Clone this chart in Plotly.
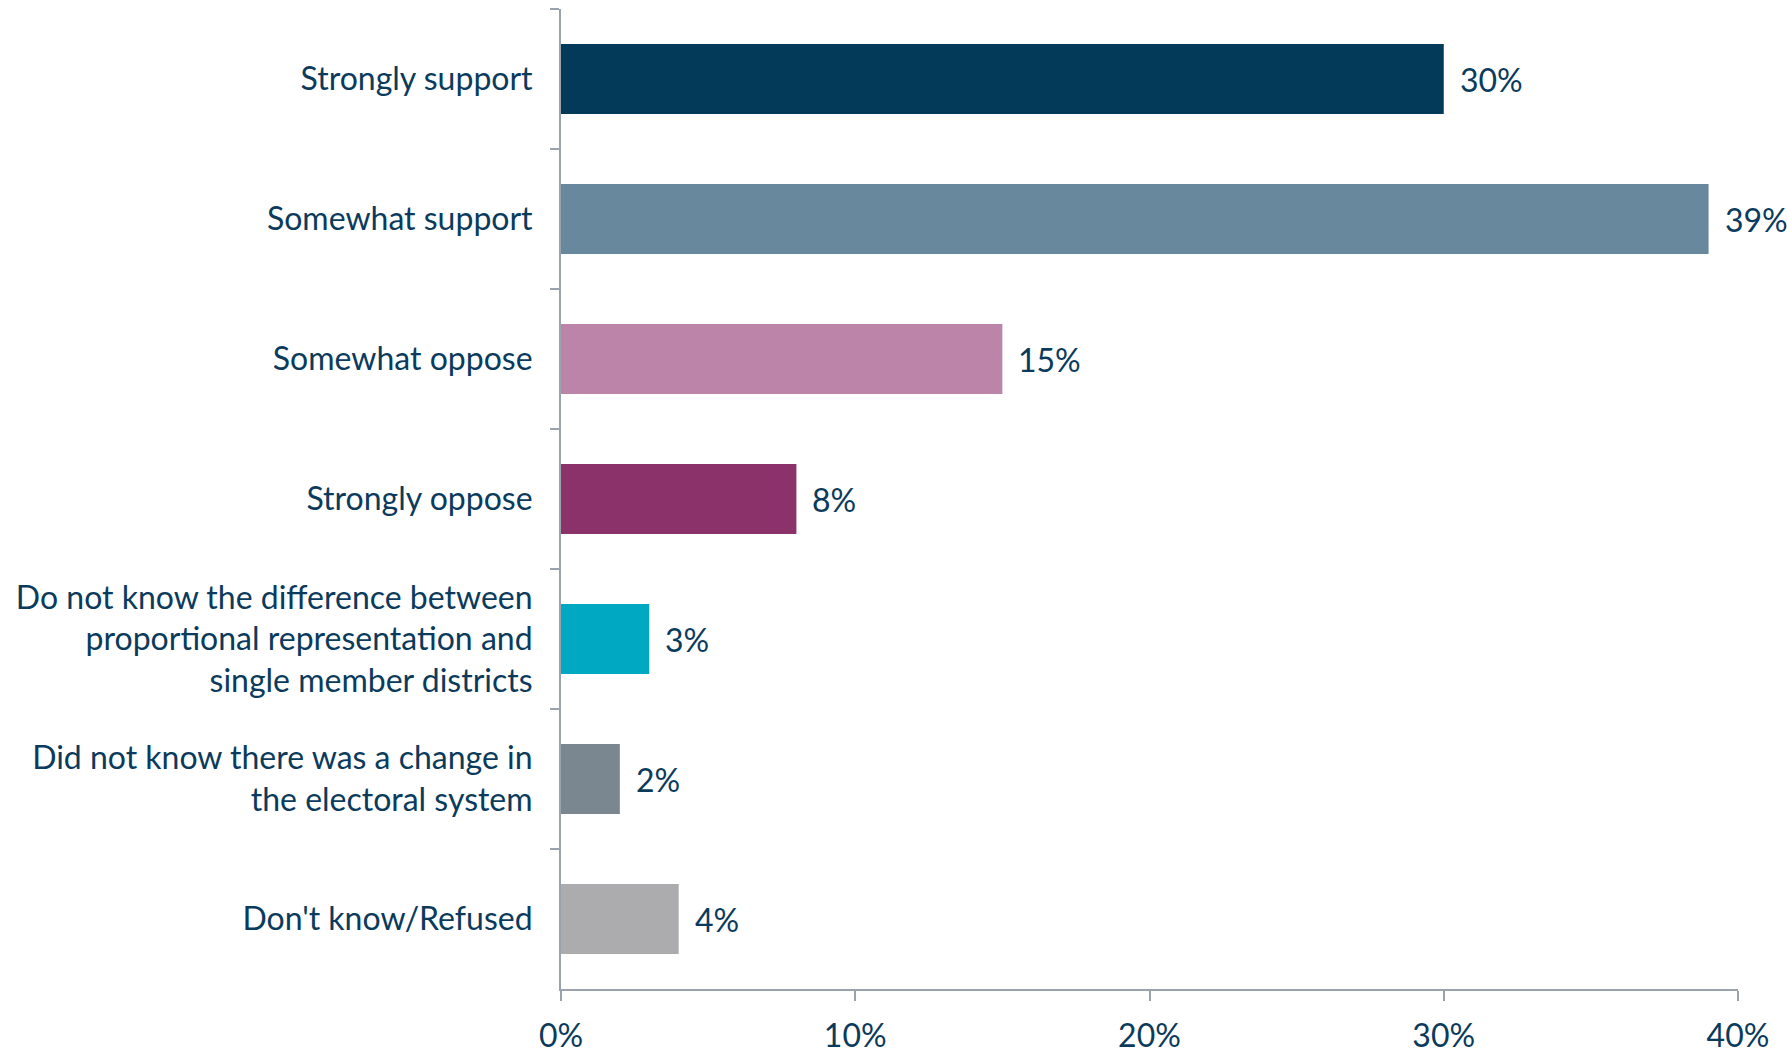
import plotly.graph_objects as go

categories = [
    "Strongly support",
    "Somewhat support",
    "Somewhat oppose",
    "Strongly oppose",
    "Do not know the difference between<br>proportional representation and<br>single member districts",
    "Did not know there was a change in<br>the electoral system",
    "Don't know/Refused",
]
values = [30, 39, 15, 8, 3, 2, 4]
colors = ["#033A5A", "#68899D", "#BC84A8", "#8C326B", "#00A8C2", "#7A8790", "#ACACAE"]
x_ticks = [0, 10, 20, 30, 40]
x_tick_labels = ["0%", "10%", "20%", "30%", "40%"]

TEXT = "#0B3B5C"
AXIS = "#9AA3AC"
FONT = "Lato, 'Open Sans', 'Liberation Sans', sans-serif"

fig = go.Figure()
fig.add_trace(go.Bar(
    x=values, y=categories, orientation="h",
    marker=dict(color=colors, line=dict(width=0)),
    hoverinfo="skip", showlegend=False,
))

for v, c in zip(values, categories):
    fig.add_annotation(x=v, y=c, text=f"{v}%", showarrow=False,
                       xanchor="left", yanchor="middle", xshift=14,
                       font=dict(family=FONT, size=32, color=TEXT))

fig.update_layout(
    width=1787, height=1053,
    margin=dict(l=561, r=49, t=9, b=64),
    paper_bgcolor="white", plot_bgcolor="white",
    bargap=0.5,
    font=dict(family=FONT, size=32, color=TEXT),
)
fig.update_xaxes(
    range=[0, 40], tickvals=x_ticks, ticktext=x_tick_labels,
    showgrid=False, zeroline=False, automargin=False,
    showline=True, linecolor=AXIS, linewidth=2,
    ticks="outside", ticklen=10, tickwidth=2, tickcolor=AXIS,
    tickfont=dict(family=FONT, size=32, color=TEXT),
    ticklabelstandoff=8,
)
fig.update_yaxes(
    autorange="reversed", showgrid=False, zeroline=False, automargin=False,
    showline=True, linecolor=AXIS, linewidth=2,
    ticks="outside", ticklen=9, tickwidth=2, tickcolor=AXIS,
    tickson="boundaries",
    tickfont=dict(family=FONT, size=32, color=TEXT),
    ticklabelstandoff=20,
)

fig.write_html("out.html", config={"displayModeBar": False},
               post_script="document.body.style.margin='0';")
